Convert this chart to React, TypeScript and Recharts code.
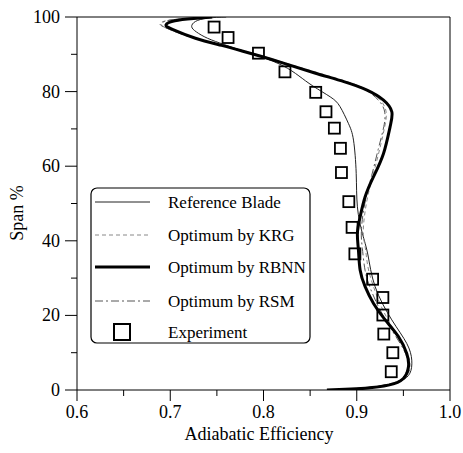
import React from "react";
import {
  ComposedChart,
  Line,
  Scatter,
  XAxis,
  YAxis,
  ReferenceLine,
} from "recharts";

// efficiency (x) vs span % (y), traced from the top of the blade down to the hub
const referenceEff = [0.76, 0.74, 0.727, 0.723, 0.728, 0.74, 0.758, 0.778, 0.798, 0.821, 0.838, 0.853, 0.8715, 0.882, 0.891, 0.8965, 0.8994, 0.9007, 0.906, 0.912, 0.9197, 0.9376, 0.9536, 0.959, 0.957, 0.948, 0.93, 0.9, 0.872];
const referenceSpan = [100, 99.7, 98.8, 97.4, 96.0, 94.3, 92.6, 90.9, 89.3, 86.9, 84.2, 81.5, 78.6, 76.0, 71.5, 67.0, 58.1, 49.1, 42.0, 36.2, 27.7, 18.8, 12.5, 8.0, 4.5, 2.5, 1.2, 0.4, 0];

const krgEff = [0.74, 0.715, 0.697, 0.689, 0.696, 0.72, 0.75, 0.777, 0.798, 0.823, 0.855, 0.887, 0.91, 0.925, 0.9315, 0.93, 0.925, 0.918, 0.911, 0.907, 0.909, 0.912, 0.918, 0.927, 0.94, 0.952, 0.957, 0.954, 0.94, 0.91, 0.87];
const krgSpan = [100, 99.6, 99.1, 98.2, 97.0, 94.8, 92.8, 91.0, 89.6, 87.7, 85.3, 82.9, 80.6, 77.8, 74.6, 70.6, 65.0, 58.1, 50.9, 42.9, 38.4, 33.0, 27.7, 22.0, 16.0, 11.0, 7.0, 4.0, 2.0, 0.6, 0];

const rbnnEff = [0.745, 0.725, 0.705, 0.6955, 0.703, 0.727, 0.755, 0.777, 0.798, 0.823, 0.855, 0.887, 0.911, 0.9287, 0.9376, 0.9358, 0.9287, 0.918, 0.909, 0.9036, 0.9007, 0.9018, 0.9036, 0.909, 0.918, 0.9305, 0.9447, 0.9536, 0.9555, 0.95, 0.934, 0.909, 0.8876, 0.868];
const rbnnSpan = [100, 99.6, 99.0, 97.9, 96.6, 94.3, 92.4, 90.9, 89.4, 87.5, 85.0, 82.6, 80.4, 77.7, 74.6, 70.6, 63.4, 57.2, 51.8, 46.4, 42.0, 37.5, 32.2, 27.7, 23.2, 18.8, 14.3, 9.8, 6.3, 3.1, 1.3, 0.5, 0.2, 0];

const rsmEff = [0.74, 0.712, 0.695, 0.69, 0.698, 0.722, 0.752, 0.778, 0.798, 0.823, 0.855, 0.887, 0.909, 0.924, 0.93, 0.929, 0.923, 0.916, 0.909, 0.905, 0.906, 0.909, 0.915, 0.925, 0.939, 0.951, 0.955, 0.951, 0.938, 0.905, 0.87];
const rsmSpan = [100, 99.5, 98.9, 98.0, 96.8, 94.6, 92.7, 90.9, 89.5, 87.6, 85.1, 82.7, 80.5, 77.5, 74.5, 70.6, 64.5, 57.5, 50.5, 43.0, 38.0, 32.0, 27.0, 21.5, 15.5, 10.5, 6.8, 3.8, 1.8, 0.5, 0];

const expEff = [0.747, 0.762, 0.7946, 0.823, 0.856, 0.867, 0.876, 0.8825, 0.8836, 0.8915, 0.895, 0.898, 0.917, 0.928, 0.928, 0.929, 0.9387, 0.937];
const expSpan = [97.3, 94.5, 90.3, 85.3, 79.8, 74.6, 70.2, 64.8, 58.3, 50.5, 43.6, 36.5, 29.7, 24.8, 20.1, 15.0, 10.0, 4.9];

const xTicks = [0.6, 0.65, 0.7, 0.75, 0.8, 0.85, 0.9, 0.95, 1.0];
const yTicks = [0, 10, 20, 30, 40, 50, 60, 70, 80, 90, 100];

const toPoints = (eff: number[], span: number[]) =>
  eff.map((e, i) => ({ eff: e, span: span[i] }));

const serif = { fontFamily: "'Liberation Serif', 'Times New Roman', 'DejaVu Serif', serif" };

const YTick = (props: any) => {
  const { x, y, payload } = props;
  const major = payload.value % 20 === 0;
  return (
    <g>
      <line x1={x} y1={y} x2={x - (major ? 12 : 6)} y2={y} stroke="#000" />
      {major && (
        <text x={x - 17} y={y + 6} textAnchor="end" fontSize={18} style={serif} fill="#000">
          {payload.value}
        </text>
      )}
    </g>
  );
};

const XTick = (props: any) => {
  const { x, y, payload } = props;
  const major = Math.round(payload.value * 100) % 10 === 0;
  return (
    <g>
      <line x1={x} y1={y} x2={x} y2={y + (major ? 11 : 6)} stroke="#000" />
      {major && (
        <text x={x} y={y + 28} textAnchor="middle" fontSize={18} style={serif} fill="#000">
          {payload.value.toFixed(1)}
        </text>
      )}
    </g>
  );
};

const Square = (props: any) => {
  const { cx, cy } = props;
  return <rect x={cx - 5.5} y={cy - 5.5} width={11} height={11} fill="none" stroke="#000" strokeWidth={1.8} />;
};

const legendItems = [
  { label: "Reference Blade", stroke: "#222", width: 1, dash: undefined as string | undefined },
  { label: "Optimum by KRG", stroke: "#888", width: 1, dash: "4 3" },
  { label: "Optimum by RBNN", stroke: "#000", width: 3, dash: undefined },
  { label: "Optimum by RSM", stroke: "#555", width: 1, dash: "8 3 2 3" },
];

function LegendBox() {
  const rowY = [202, 235, 267, 301];
  return (
    <svg width={463} height={453} style={{ position: "absolute", left: 0, top: 0, pointerEvents: "none" }}>
      <rect x={91} y={188} width={219} height={155} rx={6} fill="#fff" stroke="#000" strokeWidth={1.2} />
      {legendItems.map((it, i) => (
        <g key={it.label}>
          <line x1={95} x2={150} y1={rowY[i]} y2={rowY[i]} stroke={it.stroke} strokeWidth={it.width} strokeDasharray={it.dash} />
          <text x={168} y={rowY[i] + 6} fontSize={17} style={serif} fill="#000">{it.label}</text>
        </g>
      ))}
      <rect x={114} y={324} width={16} height={16} fill="none" stroke="#000" strokeWidth={2} />
      <text x={168} y={338} fontSize={17} style={serif} fill="#000">Experiment</text>
    </svg>
  );
}

export default function App() {
  return (
    <div style={{ position: "absolute", left: 0, top: 0, width: 463, height: 453, background: "#fff" }}>
      <ComposedChart width={463} height={453} margin={{ top: 17, right: 13, left: 0, bottom: 0 }}>
        <XAxis
          dataKey="eff"
          type="number"
          domain={[0.6, 1.0]}
          ticks={xTicks}
          height={63}
          tickSize={0}
          tickMargin={0}
          tickLine={false}
          axisLine={{ stroke: "#000" }}
          tick={<XTick />}
          allowDataOverflow
          label={{
            content: () => (
              <text x={259} y={440} textAnchor="middle" fontSize={18} style={serif} fill="#000">
                Adiabatic Efficiency
              </text>
            ),
          }}
        />
        <YAxis
          dataKey="span"
          type="number"
          domain={[0, 100]}
          ticks={yTicks}
          width={77}
          tickSize={0}
          tickMargin={0}
          tickLine={false}
          axisLine={{ stroke: "#000" }}
          tick={<YTick />}
          allowDataOverflow
          label={{
            content: () => (
              <text x={23} y={213} transform="rotate(-90 23 213)" textAnchor="middle" fontSize={18} style={serif} fill="#000">
                Span %
              </text>
            ),
          }}
        />
        <ReferenceLine y={100} stroke="#000" />
        <ReferenceLine x={1.0} stroke="#000" />
        <Line data={toPoints(referenceEff, referenceSpan)} dataKey="span" type="natural" stroke="#222" strokeWidth={1} dot={false} isAnimationActive={false} />
        <Line data={toPoints(krgEff, krgSpan)} dataKey="span" type="natural" stroke="#888" strokeWidth={1} strokeDasharray="4 3" dot={false} isAnimationActive={false} />
        <Line data={toPoints(rsmEff, rsmSpan)} dataKey="span" type="natural" stroke="#555" strokeWidth={1} strokeDasharray="8 3 2 3" dot={false} isAnimationActive={false} />
        <Line data={toPoints(rbnnEff, rbnnSpan)} dataKey="span" type="natural" stroke="#000" strokeWidth={3} dot={false} isAnimationActive={false} />
        <Scatter data={toPoints(expEff, expSpan)} dataKey="span" shape={<Square />} isAnimationActive={false} />
      </ComposedChart>
      <LegendBox />
    </div>
  );
}
